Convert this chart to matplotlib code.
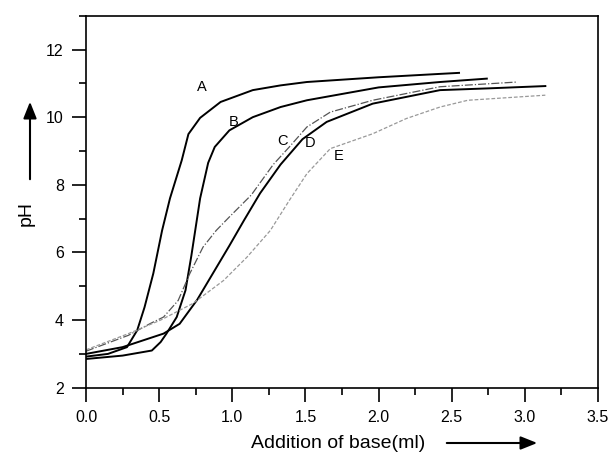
import matplotlib
matplotlib.use('Agg')
import matplotlib.pyplot as plt
from matplotlib import font_manager
from matplotlib.ticker import MultipleLocator

# pick a narrow face for tick labels if it's there
names = {f.name for f in font_manager.fontManager.ttflist}
tick_font = 'Liberation Sans Narrow' if 'Liberation Sans Narrow' in names else 'Liberation Sans'

# titration curves
a_x = [0.0, 0.15, 0.28, 0.35, 0.40, 0.46, 0.52, 0.574, 0.654, 0.70, 0.78, 0.92, 1.14, 1.33, 1.51, 2.0, 2.42, 2.55]
a_y = [2.92, 3.0, 3.2, 3.7, 4.38, 5.38, 6.65, 7.6, 8.72, 9.5, 9.98, 10.45, 10.8, 10.94, 11.04, 11.18, 11.28, 11.31]

b_x = [0.0, 0.25, 0.45, 0.51, 0.55, 0.62, 0.68, 0.72, 0.78, 0.835, 0.88, 0.98, 1.14, 1.33, 1.51, 2.0, 2.42, 2.74]
b_y = [2.85, 2.95, 3.1, 3.35, 3.6, 4.09, 4.88, 5.9, 7.6, 8.65, 9.12, 9.61, 10.0, 10.3, 10.5, 10.88, 11.04, 11.14]

c_x = [0.0, 0.29, 0.44, 0.53, 0.63, 0.71, 0.80, 0.89, 0.98, 1.13, 1.28, 1.39, 1.51, 1.67, 1.96, 2.42, 2.95]
c_y = [3.08, 3.55, 3.9, 4.09, 4.58, 5.38, 6.16, 6.65, 7.05, 7.7, 8.6, 9.12, 9.71, 10.15, 10.5, 10.9, 11.04]

d_x = [0.0, 0.25, 0.53, 0.64, 0.76, 0.87, 0.98, 1.08, 1.19, 1.33, 1.48, 1.645, 1.96, 2.42, 2.74, 3.14]
d_y = [3.0, 3.2, 3.6, 3.89, 4.6, 5.4, 6.2, 6.95, 7.75, 8.6, 9.35, 9.86, 10.4, 10.8, 10.85, 10.92]

e_x = [0.0, 0.29, 0.51, 0.73, 0.94, 1.10, 1.26, 1.39, 1.51, 1.67, 1.96, 2.19, 2.42, 2.61, 3.14]
e_y = [3.12, 3.6, 4.0, 4.49, 5.17, 5.86, 6.65, 7.54, 8.33, 9.07, 9.51, 9.96, 10.3, 10.5, 10.65]

curve_labels = ['A', 'B', 'C', 'D', 'E']
label_x = [0.79, 1.01, 1.34, 1.53, 1.73]
label_y = [10.88, 9.85, 9.30, 9.24, 8.84]

fig = plt.figure(figsize=(6.11, 4.57), dpi=100)
ax = fig.add_axes([0.1408, 0.1516, 0.8379, 0.814])

ax.plot(a_x, a_y, color='black', lw=1.4)
ax.plot(b_x, b_y, color='black', lw=1.4)
ax.plot(c_x, c_y, color='#555555', lw=0.9, ls='-.')
ax.plot(d_x, d_y, color='black', lw=1.4)
ax.plot(e_x, e_y, color='#999999', lw=0.9, ls=(0, (3, 1.5)))

for lab, lx, ly in zip(curve_labels, label_x, label_y):
    ax.text(lx, ly, lab, fontsize=10.5, family='Liberation Sans', ha='center', va='center')

ax.set_xlim(0, 3.5)
ax.set_ylim(2, 13)
ax.xaxis.set_minor_locator(MultipleLocator(0.25))
ax.yaxis.set_minor_locator(MultipleLocator(1))
ax.set_xticks([0.0, 0.5, 1.0, 1.5, 2.0, 2.5, 3.0, 3.5])
ax.set_xticklabels(['0.0', '0.5', '1.0', '1.5', '2.0', '2.5', '3.0', '3.5'])
ax.set_yticks([2, 4, 6, 8, 10, 12])
ax.tick_params(which='major', direction='out', length=10, width=1.2, labelsize=11.5, pad=6)
ax.tick_params(which='minor', direction='out', length=5, width=1.2)
for t in ax.get_xticklabels() + ax.get_yticklabels():
    t.set_family(tick_font)
for s in ax.spines.values():
    s.set_linewidth(1.2)

# axis titles with arrows, placed in figure pixels
fig.text(338 / 611, 1 - 443 / 457, 'Addition of base(ml)', fontsize=14,
         family='Liberation Sans', ha='center', va='center')
fig.text(26 / 611, 1 - 213 / 457, 'pH', fontsize=14, family='Liberation Sans',
         rotation=90, ha='center', va='center')
fig.add_artist(matplotlib.patches.FancyArrowPatch(
    (444 / 611, 1 - 443 / 457), (540 / 611, 1 - 443 / 457), transform=fig.transFigure,
    arrowstyle='-|>,head_length=10,head_width=4', color='black', lw=1.5))
fig.add_artist(matplotlib.patches.FancyArrowPatch(
    (30 / 611, 1 - 182 / 457), (30 / 611, 1 - 99 / 457), transform=fig.transFigure,
    arrowstyle='-|>,head_length=10,head_width=4', color='black', lw=1.5))

plt.savefig('out.png', dpi=100)
